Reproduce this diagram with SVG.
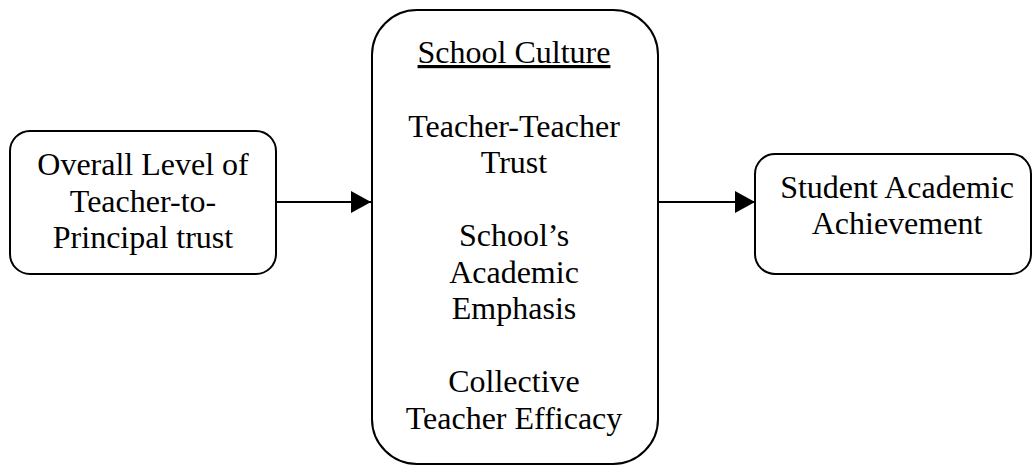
<svg xmlns="http://www.w3.org/2000/svg" width="1032" height="466" viewBox="0 0 1032 466">
<style>
.box{fill:#fff;stroke:#000;stroke-width:2}
.t{font-family:"Liberation Serif","Times New Roman",serif;font-size:32px;fill:#000;text-anchor:middle}
.c{stroke:#000;stroke-width:2;fill:none}
</style>
<defs>
<marker id="ah" markerUnits="userSpaceOnUse" markerWidth="20" markerHeight="22" refX="20" refY="11" orient="auto">
<path d="M0,0 L20,11 L0,22 Z" fill="#000"/>
</marker>
</defs>
<rect width="1032" height="466" fill="#fff"/>
<g id="connectors">
<line class="c" x1="276" y1="202" x2="371" y2="202" marker-end="url(#ah)"/>
<line class="c" x1="658" y1="202" x2="755" y2="202" marker-end="url(#ah)"/>
</g>
<g id="node-trust">
<rect class="box" x="10" y="131" width="266" height="143" rx="20"/>
<text class="t" x="143" y="175">Overall Level of</text>
<text class="t" x="143" y="211.5">Teacher-to-</text>
<text class="t" x="143" y="248">Principal trust</text>
</g>
<g id="node-culture">
<rect class="box" x="372" y="10" width="286" height="454" rx="45"/>
<text class="t" x="514" y="63" text-decoration="underline">School Culture</text>
<text class="t" x="514" y="136.5">Teacher-Teacher</text>
<text class="t" x="514" y="173">Trust</text>
<text class="t" x="514" y="246">School’s</text>
<text class="t" x="514" y="282.5">Academic</text>
<text class="t" x="514" y="319">Emphasis</text>
<text class="t" x="514" y="392">Collective</text>
<text class="t" x="514" y="428.5">Teacher Efficacy</text>
</g>
<g id="node-achievement">
<rect class="box" x="755" y="154" width="276" height="120" rx="20"/>
<text class="t" x="897" y="198">Student Academic</text>
<text class="t" x="897" y="234">Achievement</text>
</g>
</svg>
